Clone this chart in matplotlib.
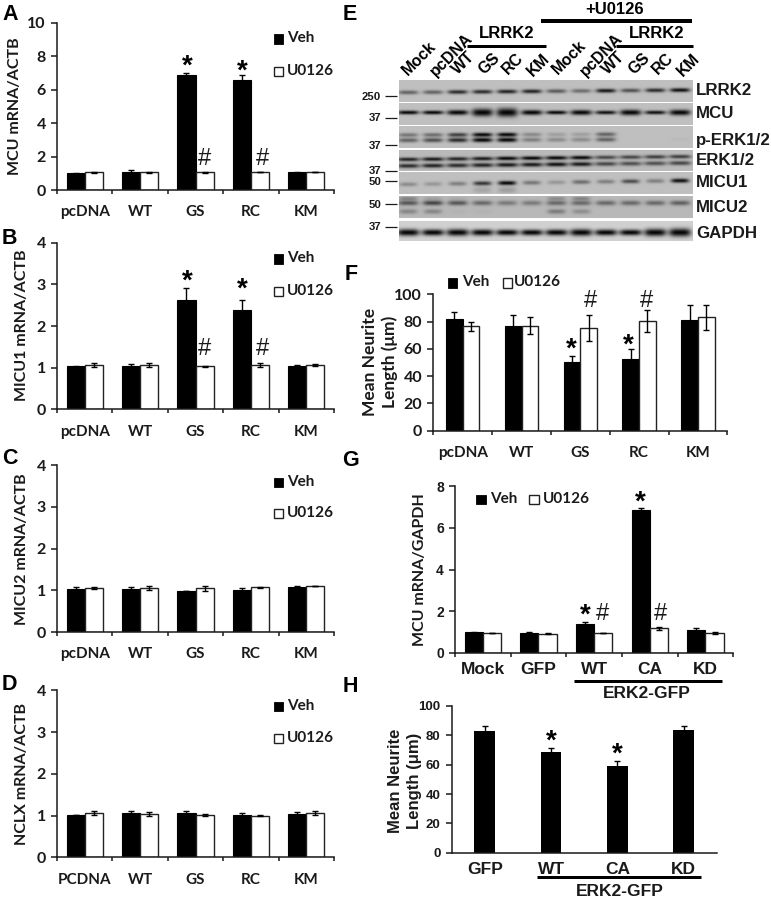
import numpy as np
import matplotlib
matplotlib.use("Agg")
import matplotlib.pyplot as plt
from matplotlib.patches import Rectangle

W, H = 771, 899
SANS = "Lato"
ARIAL = "Liberation Sans"
DARK = "#1a1a1a"

# ---------- data ----------
groups = ["pcDNA", "WT", "GS", "RC", "KM"]
groups_d = ["PCDNA", "WT", "GS", "RC", "KM"]
groups_g = ["Mock", "GFP", "WT", "CA", "KD"]
groups_h = ["GFP", "WT", "CA", "KD"]

a_veh = [1.00, 1.10, 6.90, 6.60, 1.06]
a_veh_err = [0.03, 0.12, 0.08, 0.30, 0.02]
a_u = [1.05, 1.05, 1.07, 1.08, 1.07]
a_u_err = [0.03, 0.04, 0.03, 0.01, 0.02]

b_veh = [1.03, 1.04, 2.62, 2.39, 1.05]
b_veh_err = [0.02, 0.05, 0.30, 0.23, 0.02]
b_u = [1.06, 1.06, 1.03, 1.06, 1.06]
b_u_err = [0.04, 0.04, 0.02, 0.04, 0.02]

c_veh = [1.03, 1.03, 0.99, 1.01, 1.08]
c_veh_err = [0.05, 0.05, 0.00, 0.05, 0.02]
c_u = [1.05, 1.05, 1.05, 1.07, 1.10]
c_u_err = [0.02, 0.05, 0.06, 0.02, 0.00]

d_veh = [1.01, 1.06, 1.06, 1.02, 1.04]
d_veh_err = [0.00, 0.04, 0.04, 0.04, 0.04]
d_u = [1.06, 1.04, 1.02, 1.00, 1.06]
d_u_err = [0.05, 0.04, 0.02, 0.01, 0.05]

f_veh = [82.0, 77.0, 50.5, 52.5, 81.5]
f_veh_err = [5.0, 7.5, 4.5, 7.5, 11.0]
f_u = [76.5, 77.0, 75.0, 80.5, 83.0]
f_u_err = [3.5, 6.0, 9.5, 8.0, 9.0]

g_veh = [1.00, 0.98, 1.37, 6.83, 1.08]
g_veh_err = [0.02, 0.03, 0.13, 0.10, 0.13]
g_u = [0.95, 0.93, 0.95, 1.18, 0.97]
g_u_err = [0.01, 0.01, 0.01, 0.06, 0.05]

h_veh = [83.0, 68.5, 59.0, 83.5]
h_veh_err = [3.5, 3.0, 3.5, 3.0]

lanes = ["Mock", "pcDNA", "WT", "GS", "RC", "KM"]
blot_names = ["LRRK2", "MCU", "p-ERK1/2", "ERK1/2", "MICU1", "MICU2", "GAPDH"]

lrrk2_band = [.50, .50, .80, .80, .85, .85, .55, .45, .90, .60, .80, .95]
mcu_band = [1.0, 1.0, 1.0, 1.0, 1.0, 1.0, 1.0, 1.0, .95, 1.0, .95, 1.0]
mcu_thick = [1.9, 1.9, 2.5, 3.8, 4.3, 2.5, 1.9, 2.5, 1.9, 2.8, 1.9, 2.8]
perk_up = [.40, .45, .70, 1.0, 1.0, .30, .18, .18, .50, 0, 0, 0]
perk_lo = [.50, .60, .80, 1.0, 1.0, .35, .28, .28, .50, 0, 0, .03]
erk_up = [.85, .90, .85, .90, 1.0, 1.0, 1.0, 1.0, .65, .65, .70, .70]
erk_lo = [.80, .85, .80, .85, .90, .90, .95, .90, .65, .60, .60, .65]
micu1_band = [.28, .22, .35, .75, 1.0, .40, .22, .45, .35, .62, .35, .95]
micu1_smear = [0, 0, 0, .14, .18, 0, 0, 0, 0, 0, 0, 0]
micu2_top = [.30, .12, .06, 0, 0, 0, .25, .30, 0, 0, 0, 0]
micu2_mid = [.55, .65, .55, .45, .35, .35, .45, .45, .45, .45, .45, .50]
micu2_lo = [.28, .28, .03, .03, 0, 0, .34, .24, 0, 0, 0, 0]
gapdh_band = [1.0] * 12
gapdh_thick = [3.4, 3.1, 3.4, 3.1, 2.9, 2.9, 3.0, 3.4, 3.0, 2.9, 3.7, 4.1]

# ---------- layout ----------
fig = plt.figure(figsize=(W / 100, H / 100), dpi=100, facecolor="white")
ov = fig.add_axes([0, 0, 1, 1], zorder=5)
ov.patch.set_alpha(0)


def px_axes(x0, x1, ytop, ybot):
    ax = fig.add_axes([x0 / W, 1 - ybot / H, (x1 - x0) / W, (ybot - ytop) / H], zorder=2)
    for s in ("top", "right"):
        ax.spines[s].set_visible(False)
    for s in ("left", "bottom"):
        ax.spines[s].set_linewidth(1.1)
        ax.spines[s].set_color(DARK)
    return ax


def style(ax, names, yticks, ymax, tick_family, tick_size, lab_family, lab_size, lab_pad, xticks=True):
    n = len(names)
    ax.set_xlim(0, n)
    ax.set_ylim(0, ymax)
    ax.set_yticks(yticks)
    ax.set_yticklabels([str(t) for t in yticks], fontfamily=tick_family, fontweight="bold",
                       fontsize=tick_size, color=DARK)
    ax.tick_params(axis="y", length=4, width=1.1, pad=4, color=DARK)
    ax.set_xticks(np.arange(n + 1) if xticks else [])
    ax.set_xticklabels([] if not xticks else [""] * (n + 1))
    ax.tick_params(axis="x", which="major", length=3.0, width=1.1, color=DARK, direction="out")
    ax.set_xticks(np.arange(n) + 0.5, minor=True)
    ax.set_xticklabels(names, minor=True, fontfamily=lab_family, fontweight="bold",
                       fontsize=lab_size, color=DARK)
    ax.tick_params(axis="x", which="minor", length=0, pad=lab_pad)


def bars(ax, veh, veh_err, u=None, u_err=None, w=0.325):
    x = np.arange(len(veh)) + 0.5
    ekw = dict(ecolor="black", elinewidth=1.0, capsize=2.0, capthick=1.0)
    if u is None:
        ax.bar(x, veh, w, color="black", yerr=veh_err, error_kw=ekw)
    else:
        ax.bar(x - w / 2, veh, w, color="black", edgecolor="black", linewidth=0.8,
               yerr=veh_err, error_kw=ekw)
        ax.bar(x + w / 2, u, w, color="white", edgecolor="#222222", linewidth=1.0,
               yerr=u_err, error_kw=ekw)


def ylabel(text, x, y, size=11, family=SANS):
    ov.text(x, y, text, rotation=90, ha="center", va="center", fontfamily=family,
            fontweight="bold", fontsize=size, color=DARK, linespacing=1.3)


def legend(x_b, y_b, x_vt, x_w, y_w, x_ut):
    ov.add_patch(Rectangle((x_b, y_b - 4.5), 9.5, 9.5, fc="black", ec="black", lw=0.6))
    ov.add_patch(Rectangle((x_w, y_w - 4.5), 9.5, 9.5, fc="white", ec="#222222", lw=1.0))
    ov.text(x_vt, y_b, "Veh", ha="left", va="center", fontfamily=SANS, fontweight="bold",
            fontsize=11, color=DARK)
    ov.text(x_ut, y_w, "U0126", ha="left", va="center", fontfamily=SANS, fontweight="bold",
            fontsize=11, color=DARK)


def star(x, y):
    ov.text(x, y + 14, "*", ha="center", va="baseline", fontfamily=ARIAL,
            fontweight="bold", fontsize=20, color="black")


def hash_(x, y):
    ov.text(x, y + 8, "#", ha="center", va="baseline", fontfamily=ARIAL,
            fontsize=17, color=DARK)


def letter(s, x, y):
    ov.text(x, y, s, ha="left", va="center", fontfamily=ARIAL, fontweight="bold",
            fontsize=15.5, color="black")


def hline(x0, x1, y, lw_px):
    ov.plot([x0, x1], [y, y], color="black", lw=lw_px * 0.72, solid_capstyle="butt")


# ---------- panels A-D ----------
panels = [
    ("A", 23, 190, 10, [0, 2, 4, 6, 8, 10], a_veh, a_veh_err, a_u, a_u_err, groups),
    ("B", 242.7, 409.3, 4, [0, 1, 2, 3, 4], b_veh, b_veh_err, b_u, b_u_err, groups),
    ("C", 465.3, 632, 4, [0, 1, 2, 3, 4], c_veh, c_veh_err, c_u, c_u_err, groups),
    ("D", 690.3, 857.3, 4, [0, 1, 2, 3, 4], d_veh, d_veh_err, d_u, d_u_err, groups_d),
]
for _, yt, yb, ymax, ticks, v, ve, u, ue, names in panels:
    ax = px_axes(57, 334, yt, yb)
    bars(ax, v, ve, u, ue)
    style(ax, names, ticks, ymax, SANS, 11.5, SANS, 11, 11)

ylabel("MCU mRNA/ACTB", 15, 106, size=11.5)
ylabel("MICU1 mRNA/ACTB", 22, 325, size=11.5)
ylabel("MICU2 mRNA/ACTB", 22, 549, size=11.5)
ylabel("NCLX mRNA/ACTB", 22, 774, size=11.5)
legend(273.5, 38.5, 287, 273.5, 71, 287)
legend(273.5, 258.5, 287, 273.5, 291, 287)
legend(273.5, 482, 287, 273.5, 513, 287)
legend(273.5, 706, 287, 273.5, 738, 287)
star(187, 60); star(242, 65); star(187, 275); star(242, 283)
hash_(205, 157); hash_(263, 157); hash_(205, 347); hash_(263, 347)
for s, x, y in [("A", 2, 14), ("B", 2, 239), ("C", 2, 458), ("D", 2, 685),
                ("E", 343, 14), ("F", 345, 274), ("G", 342, 460), ("H", 343, 686)]:
    letter(s, x, y)

# ---------- panel F ----------
ax = px_axes(433.3, 727.3, 294.3, 430.7)
bars(ax, f_veh, f_veh_err, f_u, f_u_err, w=0.285)
style(ax, groups, [0, 20, 40, 60, 80, 100], 100, SANS, 11.5, SANS, 11, 11)
ylabel("Mean Neurite\nLength (μm)", 380, 362, size=12.5)
legend(447.5, 282.5, 462, 502.5, 282.5, 514)
star(571.7, 342.7); star(628, 339)
hash_(590.7, 299); hash_(647, 299)

# ---------- panel G ----------
ax = px_axes(455, 733.3, 486, 653)
bars(ax, g_veh, g_veh_err, g_u, g_u_err)
style(ax, groups_g, [0, 2, 4, 6, 8], 8, ARIAL, 10, ARIAL, 12.5, 6.5)
ylabel("MCU mRNA/GAPDH", 420, 570, size=11.5)
legend(476, 499, 490, 529, 499, 543)
star(585, 609); star(640, 496)
hash_(602, 612); hash_(660, 612)
hline(574, 722, 681, 3)
ov.text(647, 694, "ERK2-GFP", ha="center", va="center", fontfamily=ARIAL, fontweight="bold",
        fontsize=12.5, color=DARK)

# ---------- panel H ----------
ax = px_axes(451.7, 716.7, 706, 852.7)
bars(ax, h_veh, h_veh_err, w=0.313)
style(ax, groups_h, [0, 20, 40, 60, 80, 100], 100, ARIAL, 9.5, ARIAL, 12.5, 6.5, xticks=False)
ylabel("Mean Neurite\nLength (μm)", 405, 781, size=12, family=ARIAL)
star(551, 735); star(617.7, 748)
hline(537, 701, 877, 3)
ov.text(620, 892, "ERK2-GFP", ha="center", va="center", fontfamily=ARIAL, fontweight="bold",
        fontsize=12.5, color=DARK)

# ---------- panel E: western blot ----------
BX0, BX1 = 399, 693
lane_x = 408.3 + 24.7 * np.arange(12)
xs = np.arange(BX0, BX1, 0.5) + 0.25


def strip(y0, y1, bands, bg=0.73):
    ys = np.arange(y0, y1, 0.5) + 0.25
    X, Y = np.meshgrid(xs, ys)
    dark = np.zeros_like(X)
    for yc, tilt, vals, thick, wx in bands:
        if np.isscalar(thick):
            thick = [thick] * 12
        for lx, v, t in zip(lane_x, vals, thick):
            yy = yc + tilt * (lx - BX0) / (BX1 - BX0)
            dark += v * np.exp(-(np.abs(X - lx) / wx) ** 4) * np.exp(-((Y - yy) / t) ** 2)
    img = bg * (1 - np.clip(dark, 0, 1)) + 0.02
    ov.imshow(img, extent=(BX0, BX1, y1, y0), cmap="gray", vmin=0, vmax=1, aspect="auto",
              interpolation="bilinear", zorder=1)


strip(80, 102, [(92.5, -2.5, lrrk2_band, 2.0, 10)])
strip(103, 125, [(112.5, 0, mcu_band, mcu_thick, 10.5)])
strip(126, 148, [(135, -1, perk_up, 2.0, 10), (140.3, -1, perk_lo, 2.2, 10)])
strip(150, 171, [(159.5, -3, erk_up, 1.9, 11), (166, -3, erk_lo, 2.1, 11)], bg=0.71)
strip(172, 194, [(184.5, -4, micu1_band, 2.1, 9), (190, 0, micu1_smear, 3, 9)])
strip(196, 218, [(198.5, 0, micu2_top, 1.8, 9), (203, 0, micu2_mid, 2.4, 10),
                 (211.5, 0, micu2_lo, 2.4, 9)], bg=0.70)
strip(221, 241, [(232.5, 0, gapdh_band, gapdh_thick, 11)], bg=0.80)

# lane labels: anchor is the left end of each baseline
lane_starts = [(407.5, 75.5), (435.5, 77), (457.5, 75), (484.5, 75), (507.5, 75), (533, 77),
               (557.5, 75), (586, 77), (607.5, 75), (634.5, 75), (657.5, 75), (682.5, 77)]
for i, (x, y) in enumerate(lane_starts):
    ov.text(x, y, lanes[i % 6], rotation=45, rotation_mode="anchor", ha="left", va="baseline",
            fontfamily=ARIAL, fontweight="bold", fontsize=11.5, color="black")

hline(467, 546, 45.7, 3)
hline(616, 693, 45.7, 3)
hline(541, 692, 21, 4)
ov.text(506.5, 34, "LRRK2", ha="center", va="center", fontfamily=ARIAL, fontweight="bold",
        fontsize=12, color="black")
ov.text(656.5, 34, "LRRK2", ha="center", va="center", fontfamily=ARIAL, fontweight="bold",
        fontsize=12, color="black")
ov.text(615, 9, "+U0126", ha="center", va="center", fontfamily=ARIAL, fontweight="bold",
        fontsize=12, color="black")

for name, y in zip(blot_names, [90.7, 113, 140, 160.5, 182.5, 207, 233]):
    ov.text(696, y, name, ha="left", va="center", fontfamily=ARIAL, fontweight="bold",
            fontsize=12.2, color=DARK)

for lab, ty, my in [("250", 96.7, 96), ("37", 118, 118.3), ("37", 146, 145.3), ("37", 170.5, 171),
                    ("50", 182, 180.7), ("50", 205, 203.7), ("37", 227.5, 226.7)]:
    ov.text(381, ty, lab, ha="right", va="center", fontfamily=ARIAL, fontweight="bold",
            fontsize=8.2, color=DARK)
    ov.plot([385, 397], [my, my], color=DARK, lw=0.9, solid_capstyle="butt")

ov.set_xlim(0, W)
ov.set_ylim(H, 0)
ov.axis("off")

fig.savefig("out.png", dpi=100, facecolor="white")
